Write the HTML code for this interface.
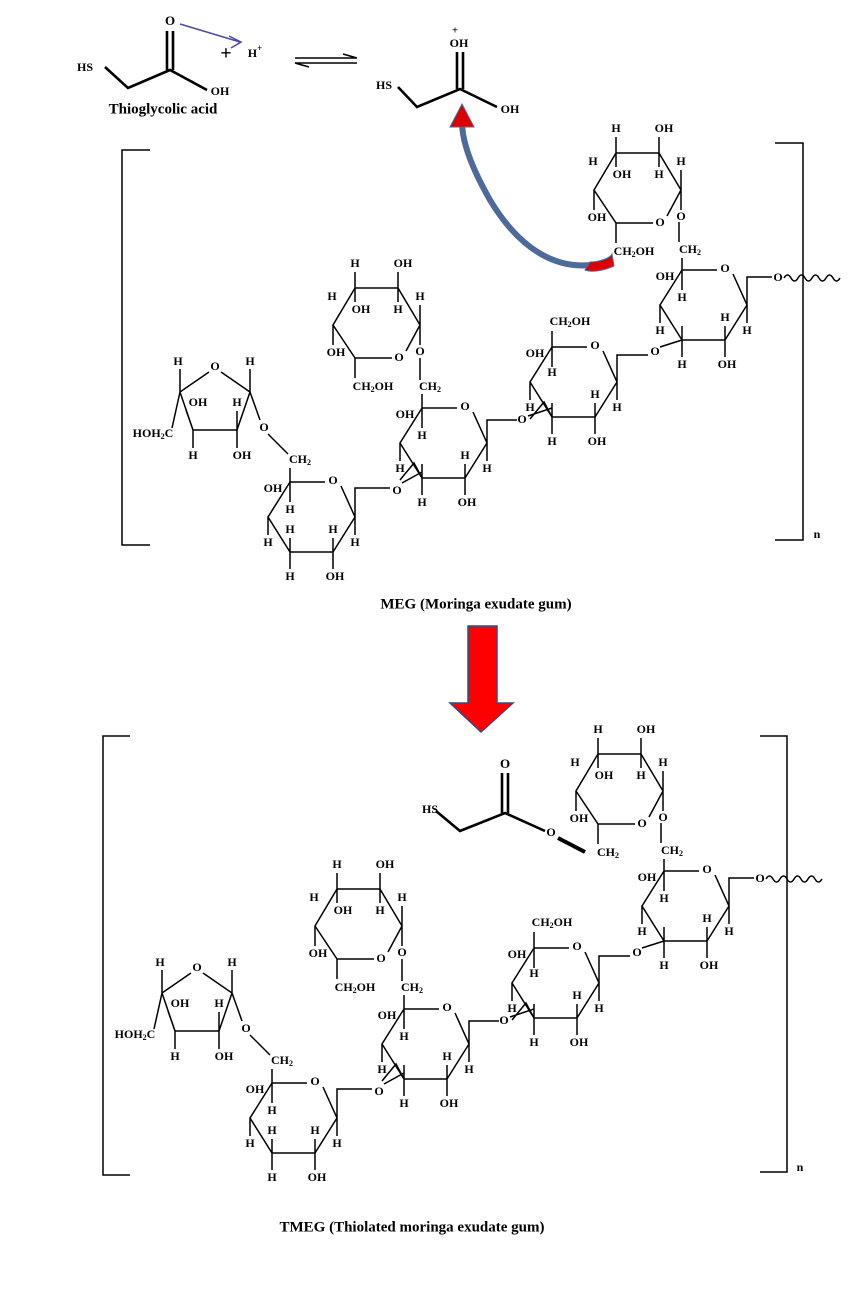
<!DOCTYPE html>
<html><head><meta charset="utf-8"><style>
html,body{margin:0;padding:0;background:#fff}
svg{display:block}
text{font-family:"Liberation Serif",serif;font-weight:bold;font-size:12px;text-anchor:middle;dominant-baseline:middle;fill:#000}
.l{stroke:#000;stroke-width:1.5;fill:none}
.b{stroke:#000;stroke-width:2.6;fill:none}
.cap{font-size:15px}
</style></head><body>
<svg width="858" height="1298" viewBox="0 0 858 1298" xmlns="http://www.w3.org/2000/svg">
<!-- top reaction -->
<text x="170" y="22" style="font-size:13px">O</text>
<path class="b" d="M167,31V70 M173,31V70 M105,67L128,88L170,70L207,90"/>
<text x="85" y="68">HS</text>
<text x="220" y="92">OH</text>
<text x="163" y="110" class="cap">Thioglycolic acid</text>
<path d="M180,24L240,42" stroke="#4a4aa0" stroke-width="1.5" fill="none"/>
<path d="M229,36L241,42L231,48" stroke="#4a4aa0" stroke-width="1.5" fill="none"/>
<text x="226" y="55" style="font-size:20px">+</text>
<text x="255" y="54">H<tspan style="font-size:9px" dy="-5">+</tspan></text>
<path class="l" d="M295,58H357 M343,54L357,58 M295,63H357 M309,67L295,63"/>
<text x="455" y="31" style="font-size:11px">+</text>
<text x="459" y="44">OH</text>
<path class="b" d="M457,52V89 M463,52V89 M398,87L417,107L460,89L497,107"/>
<text x="384" y="86">HS</text>
<text x="510" y="110">OH</text>
<!-- curved arrow -->
<path d="M606,262C560,275 520,250 490,200C470,165 462,140 462,122" stroke="#4d6a9a" stroke-width="6" fill="none"/>
<path d="M590,262C600,262 610,258 612,254L614,266C600,272 590,272 585,270Z" fill="#d00" stroke="#4d6a9a"/>
<path d="M462,104L450,127L474,127Z" fill="#d00" stroke="#4d6a9a"/>
<!-- big arrow -->
<path d="M468,626H497V703H513L481,732L450,703H468Z" fill="#f00" stroke="#3a4a7a" stroke-width="1.5"/>
<!-- captions -->
<text x="476" y="605" class="cap">MEG (Moringa exudate gum)</text>
<text x="412" y="1228" class="cap">TMEG (Thiolated moringa exudate gum)</text>
<!-- brackets -->
<path class="l" d="M150,150H122V545H150 M775,143H803V540H775"/>
<text x="817" y="535">n</text>
<path class="l" d="M130,736H103V1175H130 M760,736H787V1172H760"/>
<text x="800" y="1168">n</text>

<!-- POLYMER TOP -->
<g>
<path class="l" d="M180,392L209,372 M221,372L250,392L237,430L193,430L180,392 M180,392V369 M250,392V369 M193,430V448 M237,430V448 M237,430V411 M193,430L186,410 M180,392L172,428 M250,392L260,420 M268,434L288,454"/>
<text x="215" y="367">O</text>
<text x="178" y="362">H</text><text x="250" y="362">H</text>
<text x="198" y="403">OH</text><text x="237" y="403">H</text>
<text x="153" y="434">HOH<tspan style="font-size:8px" dy="3">2</tspan><tspan dy="-3">C</tspan></text>
<text x="193" y="456">H</text><text x="242" y="456">OH</text>
<text x="264" y="428">O</text>
<text x="300" y="460">CH<tspan style="font-size:8px" dy="3">2</tspan></text>
<path class="l" d="M290,468V482"/>
<g transform="translate(290,482)">
<path class="l" d="M0,0H35 M51,4L65,35L43,70H0L-22,35L0,0 M0,0V20 M-22,35V53 M0,70V56 M0,70V87 M43,70V56 M43,70V87 M65,35V53 M65,35V6H100"/>
<text x="43" y="-1">O</text><text x="-17" y="7">OH</text><text x="0" y="28">H</text><text x="0" y="48">H</text>
<text x="-22" y="61">H</text><text x="43" y="48">H</text><text x="65" y="61">H</text><text x="0" y="95">H</text><text x="45" y="95">OH</text>
<text x="107" y="9">O</text><path class="l" d="M112,1L132,-10"/>
</g>
<g transform="translate(422,408)">
<path class="l" d="M0,0H35 M51,4L65,35L43,70H0L-22,35L0,0 M0,0V20 M-22,35V53 M0,70V56 M0,70V87 M43,70V56 M43,70V87 M65,35V53 M65,35V12H95 M0,70L-8,55L-22,72"/>
<text x="43" y="-1">O</text><text x="-17" y="7">OH</text><text x="0" y="28">H</text><text x="43" y="48">H</text>
<text x="-22" y="61">H</text><text x="65" y="61">H</text><text x="0" y="95">H</text><text x="45" y="95">OH</text>
<text x="100" y="12">O</text><path class="l" d="M106,8L130,0"/>
<path class="l" d="M0,0V-14"/>
<text x="8" y="-21">CH<tspan style="font-size:8px" dy="3">2</tspan></text>
<path class="l" d="M-2,-28L-2,-50"/>
</g>
<g transform="translate(552,347)">
<path class="l" d="M0,0H35 M51,4L65,35L43,70H0L-22,35L0,0 M0,0V20 M0,0V-16 M-22,35V53 M0,70V56 M0,70V87 M43,70V56 M43,70V87 M65,35V53 M65,35V8H96 M0,70L-8,55L-22,72"/>
<text x="43" y="-1">O</text><text x="-17" y="7">OH</text><text x="0" y="26">H</text><text x="43" y="48">H</text>
<text x="-22" y="61">H</text><text x="65" y="61">H</text><text x="0" y="95">H</text><text x="45" y="95">OH</text>
<text x="18" y="-25">CH<tspan style="font-size:8px" dy="3">2</tspan><tspan dy="-3">OH</tspan></text>
<text x="103" y="5">O</text><path class="l" d="M108,0L130,-7"/>
</g>
<g transform="translate(682,270)">
<path class="l" d="M0,0H35 M51,4L65,35L43,70H0L-22,35L0,0 M0,0V20 M0,0V-12 M-22,35V53 M0,70V56 M0,70V87 M43,70V56 M43,70V87 M65,35V53 M65,35V7H90 M-3,-28V-48"/>
<text x="43" y="-1">O</text><text x="-17" y="7">OH</text><text x="0" y="28">H</text><text x="43" y="48">H</text>
<text x="-22" y="61">H</text><text x="65" y="61">H</text><text x="0" y="95">H</text><text x="45" y="95">OH</text>
<text x="8" y="-20">CH<tspan style="font-size:8px" dy="3">2</tspan></text>
<text x="96" y="8">O</text>
<path class="l" d="M102,8q3.5,-6 7,0t7,0t7,0t7,0t7,0t7,0t7,0t7,0"/>
</g>
<g transform="translate(355,288)">
<path class="l" d="M0,0H43L65,37L51,63 M37,70H0L-22,37L0,0 M0,0V-16 M0,0V14 M43,0V-16 M43,0V14 M65,37V17 M-22,37V57 M0,70V90 M65,37V57"/>
<text x="0" y="-24">H</text><text x="48" y="-24">OH</text><text x="-23" y="9">H</text><text x="6" y="22">OH</text><text x="43" y="22">H</text><text x="65" y="9">H</text>
<text x="-19" y="65">OH</text><text x="44" y="70">O</text><text x="65" y="64">O</text>
<text x="18" y="99">CH<tspan style="font-size:8px" dy="3">2</tspan><tspan dy="-3">OH</tspan></text>
</g>
<g transform="translate(616,153)">
<path class="l" d="M0,0H43L65,37L51,63 M37,70H0L-22,37L0,0 M0,0V-16 M0,0V14 M43,0V-16 M43,0V14 M65,37V17 M-22,37V57 M0,70V90 M65,37V57"/>
<text x="0" y="-24">H</text><text x="48" y="-24">OH</text><text x="-23" y="9">H</text><text x="6" y="22">OH</text><text x="43" y="22">H</text><text x="65" y="9">H</text>
<text x="-19" y="65">OH</text><text x="44" y="70">O</text><text x="65" y="64">O</text>
<text x="18" y="99">CH<tspan style="font-size:8px" dy="3">2</tspan><tspan dy="-3">OH</tspan></text>
</g>
</g>

<!-- POLYMER BOTTOM -->
<g transform="translate(-18,601)">
<path class="l" d="M180,392L209,372 M221,372L250,392L237,430L193,430L180,392 M180,392V369 M250,392V369 M193,430V448 M237,430V448 M237,430V411 M193,430L186,410 M180,392L172,428 M250,392L260,420 M268,434L288,454"/>
<text x="215" y="367">O</text>
<text x="178" y="362">H</text><text x="250" y="362">H</text>
<text x="198" y="403">OH</text><text x="237" y="403">H</text>
<text x="153" y="434">HOH<tspan style="font-size:8px" dy="3">2</tspan><tspan dy="-3">C</tspan></text>
<text x="193" y="456">H</text><text x="242" y="456">OH</text>
<text x="264" y="428">O</text>
<text x="300" y="460">CH<tspan style="font-size:8px" dy="3">2</tspan></text>
<path class="l" d="M290,468V482"/>
<g transform="translate(290,482)">
<path class="l" d="M0,0H35 M51,4L65,35L43,70H0L-22,35L0,0 M0,0V20 M-22,35V53 M0,70V56 M0,70V87 M43,70V56 M43,70V87 M65,35V53 M65,35V6H100"/>
<text x="43" y="-1">O</text><text x="-17" y="7">OH</text><text x="0" y="28">H</text><text x="0" y="48">H</text>
<text x="-22" y="61">H</text><text x="43" y="48">H</text><text x="65" y="61">H</text><text x="0" y="95">H</text><text x="45" y="95">OH</text>
<text x="107" y="9">O</text><path class="l" d="M112,1L132,-10"/>
</g>
<g transform="translate(422,408)">
<path class="l" d="M0,0H35 M51,4L65,35L43,70H0L-22,35L0,0 M0,0V20 M-22,35V53 M0,70V56 M0,70V87 M43,70V56 M43,70V87 M65,35V53 M65,35V12H95 M0,70L-8,55L-22,72"/>
<text x="43" y="-1">O</text><text x="-17" y="7">OH</text><text x="0" y="28">H</text><text x="43" y="48">H</text>
<text x="-22" y="61">H</text><text x="65" y="61">H</text><text x="0" y="95">H</text><text x="45" y="95">OH</text>
<text x="100" y="12">O</text><path class="l" d="M106,8L130,0"/>
<path class="l" d="M0,0V-14"/>
<text x="8" y="-21">CH<tspan style="font-size:8px" dy="3">2</tspan></text>
<path class="l" d="M-2,-28L-2,-50"/>
</g>
<g transform="translate(552,347)">
<path class="l" d="M0,0H35 M51,4L65,35L43,70H0L-22,35L0,0 M0,0V20 M0,0V-16 M-22,35V53 M0,70V56 M0,70V87 M43,70V56 M43,70V87 M65,35V53 M65,35V8H96 M0,70L-8,55L-22,72"/>
<text x="43" y="-1">O</text><text x="-17" y="7">OH</text><text x="0" y="26">H</text><text x="43" y="48">H</text>
<text x="-22" y="61">H</text><text x="65" y="61">H</text><text x="0" y="95">H</text><text x="45" y="95">OH</text>
<text x="18" y="-25">CH<tspan style="font-size:8px" dy="3">2</tspan><tspan dy="-3">OH</tspan></text>
<text x="103" y="5">O</text><path class="l" d="M108,0L130,-7"/>
</g>
<g transform="translate(682,270)">
<path class="l" d="M0,0H35 M51,4L65,35L43,70H0L-22,35L0,0 M0,0V20 M0,0V-12 M-22,35V53 M0,70V56 M0,70V87 M43,70V56 M43,70V87 M65,35V53 M65,35V7H90 M-3,-28V-48"/>
<text x="43" y="-1">O</text><text x="-17" y="7">OH</text><text x="0" y="28">H</text><text x="43" y="48">H</text>
<text x="-22" y="61">H</text><text x="65" y="61">H</text><text x="0" y="95">H</text><text x="45" y="95">OH</text>
<text x="8" y="-20">CH<tspan style="font-size:8px" dy="3">2</tspan></text>
<text x="96" y="8">O</text>
<path class="l" d="M102,8q3.5,-6 7,0t7,0t7,0t7,0t7,0t7,0t7,0t7,0"/>
</g>
<g transform="translate(355,288)">
<path class="l" d="M0,0H43L65,37L51,63 M37,70H0L-22,37L0,0 M0,0V-16 M0,0V14 M43,0V-16 M43,0V14 M65,37V17 M-22,37V57 M0,70V90 M65,37V57"/>
<text x="0" y="-24">H</text><text x="48" y="-24">OH</text><text x="-23" y="9">H</text><text x="6" y="22">OH</text><text x="43" y="22">H</text><text x="65" y="9">H</text>
<text x="-19" y="65">OH</text><text x="44" y="70">O</text><text x="65" y="64">O</text>
<text x="18" y="99">CH<tspan style="font-size:8px" dy="3">2</tspan><tspan dy="-3">OH</tspan></text>
</g>
<g transform="translate(616,153)">
<path class="l" d="M0,0H43L65,37L51,63 M37,70H0L-22,37L0,0 M0,0V-16 M0,0V14 M43,0V-16 M43,0V14 M65,37V17 M-22,37V57 M0,70V90 M65,37V57"/>
<text x="0" y="-24">H</text><text x="48" y="-24">OH</text><text x="-23" y="9">H</text><text x="6" y="22">OH</text><text x="43" y="22">H</text><text x="65" y="9">H</text>
<text x="-19" y="65">OH</text><text x="44" y="70">O</text><text x="65" y="64">O</text>
<text x="10" y="99">CH<tspan style="font-size:8px" dy="3">2</tspan></text>
</g>
</g>
<!-- thioester -->
<text x="505" y="765" style="font-size:13px">O</text>
<path class="b" d="M502,773V813 M508,773V813 M436,811L460,831L505,813L545,831"/>
<text x="430" y="810">HS</text>
<text x="551" y="833">O</text>
<path d="M558,838L585,852" stroke="#000" stroke-width="4"/>
</svg>
</body></html>
